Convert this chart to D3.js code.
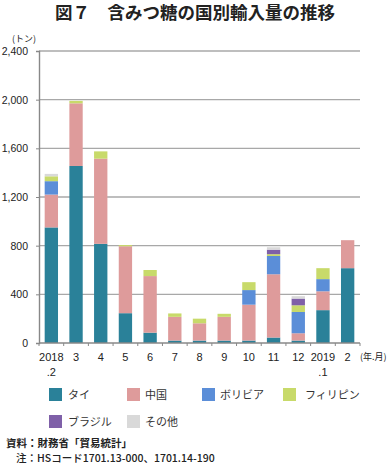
<!DOCTYPE html>
<html><head><meta charset="utf-8">
<script src="https://cdn.jsdelivr.net/npm/d3@7"></script>
<style>body{margin:0;background:#fff}svg{display:block}</style>
</head><body>
<svg id="c" width="390" height="465"></svg>
<script>
const categories = ["2018.2","3","4","5","6","7","8","9","10","11","12","2019.1","2"];
const seriesNames = ["タイ","中国","ボリビア","フィリピン","ブラジル","その他"];
const thai      = [950,1455,815,245, 85, 20, 20, 20, 20, 45, 20,270,615];
const china     = [270, 515,700,550,465,195,142,195,295,520, 60,155,230];
const bolivia   = [110,   0,  0,  0,  0,  0,  0,  0,120,150,175,100,  0];
const philippines=[ 40,  20, 60, 10, 50, 28, 38, 25, 65, 15, 55, 90,  0];
const brazil    = [  0,   0,  0,  0,  0,  0,  0,  0,  0, 37, 55,  0,  0];
const others    = [ 20,   0,  0,  0,  0,  0,  0,  0,  0, 20, 20,  0,  0];
const yTicks = [0,400,800,1200,1600,2000,2400];
const colors = ["#2a8199","#de9b9b","#5b8ed8","#c8da6a","#7f60a8","#d9d9d9"];

const seriesData = [thai,china,bolivia,philippines,brazil,others];
const rows = categories.map((c,i)=>{const r={cat:c};seriesNames.forEach((s,j)=>r[s]=seriesData[j][i]);return r;});
const stacked = d3.stack().keys(seriesNames)(rows);

const svg = d3.select("#c");
const L=39,R=360,T=51,B=343;
const x = d3.scaleBand().domain(categories).range([L,R]).paddingInner(0.46).paddingOuter(0.23);
const y = d3.scaleLinear().domain([0,2400]).range([B,T]);
const font = "'Liberation Sans', Arial, sans-serif";
const jp = "'Noto Sans CJK JP', sans-serif";

svg.append("text").attr("x",195).attr("y",19).attr("text-anchor","middle")
  .attr("font-family",jp).attr("font-weight","bold").attr("font-size",17.5).attr("fill","#222")
  .text("図７　含みつ糖の国別輸入量の推移");

// grid
svg.append("g").selectAll("line").data(yTicks.filter(d=>d>0)).join("line")
  .attr("x1",L).attr("x2",R).attr("y1",d=>y(d)).attr("y2",d=>y(d))
  .attr("stroke","#a8a8a8").attr("stroke-width",1.4);

// y axis
const ya = svg.append("g").attr("transform",`translate(${L},0)`)
  .call(d3.axisLeft(y).tickValues(yTicks).tickSize(3).tickPadding(8).tickFormat(d3.format(",")));
ya.select(".domain").attr("stroke","#888").attr("stroke-width",1.4);
ya.selectAll(".tick line").attr("stroke","#888");
ya.selectAll("text").attr("font-family",font).attr("font-size",10.5).attr("fill","#222");

svg.append("text").attr("x",12).attr("y",42).attr("font-family",jp).attr("font-size",9).attr("fill","#222").text("(トン)");

// bars
svg.append("g").selectAll("g").data(stacked).join("g").attr("fill",(d,i)=>colors[i])
  .selectAll("rect").data(d=>d).join("rect")
  .attr("x",d=>x(d.data.cat)).attr("width",x.bandwidth())
  .attr("y",d=>y(d[1])).attr("height",d=>y(d[0])-y(d[1]));

// x axis
svg.append("line").attr("x1",L).attr("x2",R).attr("y1",B).attr("y2",B).attr("stroke","#888").attr("stroke-width",1.4);
const step = x.step();
svg.append("g").selectAll("line").data(d3.range(categories.length+1)).join("line")
  .attr("x1",i=>L+i*step).attr("x2",i=>L+i*step).attr("y1",B).attr("y2",B+3).attr("stroke","#888");

const xl = svg.append("g").selectAll("text").data(categories).join("text")
  .attr("x",d=>x(d)+x.bandwidth()/2).attr("y",361).attr("text-anchor","middle")
  .attr("font-family",font).attr("font-size",11).attr("fill","#222");
xl.each(function(d){
  const parts = d.split(".");
  const t = d3.select(this);
  t.append("tspan").text(parts[0]);
  if(parts.length>1) t.append("tspan").attr("x",x(d)+x.bandwidth()/2).attr("dy",15).text("."+parts[1]);
});
svg.append("text").attr("x",360).attr("y",360).attr("font-family",jp).attr("font-size",9).attr("fill","#222").text("(年.月)");

// legend
const legPos = [[49,388],[127,388],[202,388],[283,388],[49,415],[127,415]];
const textX = [68,145,220,305,68,145];
const lg = svg.append("g");
seriesNames.forEach((s,i)=>{
  lg.append("rect").attr("x",legPos[i][0]).attr("y",legPos[i][1]).attr("width",13).attr("height",13).attr("fill",colors[i]);
  lg.append("text").attr("x",textX[i]).attr("y",legPos[i][1]+11).attr("font-family",jp).attr("font-size",11).attr("fill","#333").text(s);
});

svg.append("text").attr("x",6).attr("y",447).attr("font-family",jp).attr("font-weight","bold").attr("font-size",10.5).attr("fill","#222").text("資料：財務省「貿易統計」");
svg.append("text").attr("x",16).attr("y",462).attr("font-family",jp).attr("font-weight","500").attr("font-size",10.5).attr("fill","#222").text("注：HSコード1701.13-000、1701.14-190");
</script>
</body></html>
